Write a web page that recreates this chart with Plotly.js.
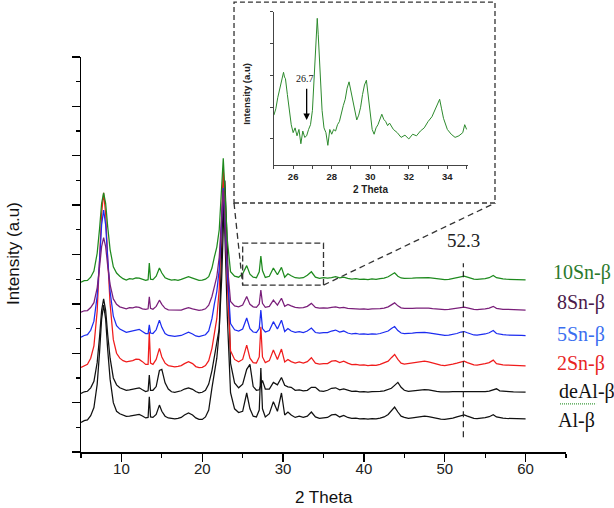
<!DOCTYPE html>
<html>
<head>
<meta charset="utf-8">
<script src="https://cdn.plot.ly/plotly-3.0.1.min.js"></script>
<style>html,body{margin:0;padding:0;background:#fff}#chart{width:614px;height:508px}</style>
</head>
<body>
<div id="chart"></div>
<script>
// Shared 2-theta grid (degrees) for the six stacked patterns
const twoTheta = [
5.0,5.4,5.8,6.2,6.6,7.0,7.3,7.55,7.8,8.05,8.3,8.6,9.0,9.4,9.8,
10.2,10.6,11.0,11.4,11.8,12.2,12.6,13.0,
13.3,13.45,13.6,13.9,14.3,14.7,15.0,15.4,15.8,
16.2,16.6,17.0,17.4,17.8,18.3,18.8,19.2,19.6,20.0,20.4,20.8,
21.2,21.5,21.8,22.1,22.4,22.6,22.8,23.1,23.5,24.0,24.5,
25.0,25.5,25.9,26.3,26.7,27.05,27.25,27.45,27.8,28.3,28.8,29.3,29.8,30.2,30.6,31.0,31.5,32.0,32.5,33.0,33.5,34.0,34.5,35.0,
35.5,36.0,36.5,37.0,37.5,38.0,38.5,39.0,39.5,40.0,40.5,41.0,41.5,42.0,42.5,43.0,43.4,43.8,44.2,44.6,45.0,
45.5,46.0,46.5,47.0,47.5,48.0,48.5,49.0,49.5,50.0,50.5,51.0,51.5,52.0,52.4,52.8,53.2,53.6,54.0,54.5,55.0,55.5,56.0,56.4,56.8,57.2,57.6,58.0,58.5,59.0,59.5,60.0
];

const sn10 = [
6.88,6.94,6.95,7.08,7.33,8.05,9.06,10.07,10.5,10.07,9.13,8.2,7.5,7.25,7.12,
7.02,6.96,7.02,7.0,7.05,7.04,6.98,6.95,
6.98,7.65,7.0,6.98,7.12,7.45,7.25,7.06,7.0,
6.96,6.98,6.95,6.99,7.05,7.1,7.04,6.98,6.95,6.96,7.0,7.1,
7.45,7.9,8.3,9.0,10.8,11.9,10.6,8.6,7.3,7.12,7.08,
7.22,7.55,7.2,7.08,7.06,7.3,7.94,7.35,7.07,7.12,7.45,7.18,7.48,7.08,7.22,7.14,7.06,7.04,7.06,7.16,7.3,7.08,7.03,7.06,
7.04,7.06,7.1,7.05,7.08,7.03,7.0,7.02,6.99,7.0,6.98,7.01,6.99,7.02,7.04,7.1,7.18,7.26,7.12,7.05,7.03,
7.02,7.04,7.05,7.06,7.07,7.06,7.04,7.01,6.99,6.98,6.99,7.02,7.05,7.1,7.12,7.08,7.03,7.0,6.99,7.0,7.02,7.06,7.15,7.06,7.02,7.01,7.0,7.0,6.99,6.98,6.98,6.97
];
const sn8 = [
5.66,5.72,5.73,5.85,6.05,6.65,7.5,8.32,8.68,8.32,7.55,6.78,6.2,5.98,5.88,
5.84,5.8,5.85,5.84,5.88,5.86,5.8,5.78,
5.8,6.29,5.82,5.78,5.9,6.15,5.98,5.82,5.76,
5.76,5.74,5.76,5.75,5.8,5.85,5.8,5.76,5.74,5.76,5.8,5.95,
6.3,6.7,7.1,7.9,9.6,10.6,9.5,7.6,6.1,5.92,5.88,
5.95,6.3,5.98,5.88,5.86,6.0,6.56,6.02,5.86,5.9,6.15,5.95,6.23,5.9,5.98,5.92,5.86,5.84,5.85,5.9,6.02,5.86,5.83,5.84,
5.83,5.86,5.88,5.84,5.86,5.82,5.8,5.81,5.79,5.8,5.78,5.8,5.79,5.81,5.83,5.88,5.96,6.04,5.92,5.84,5.82,
5.81,5.82,5.83,5.84,5.84,5.83,5.81,5.79,5.78,5.77,5.78,5.8,5.82,5.86,5.87,5.84,5.8,5.78,5.77,5.78,5.8,5.83,5.9,5.82,5.79,5.78,5.78,5.77,5.77,5.76,5.76,5.75
];
const sn5 = [
4.65,4.72,4.75,4.93,5.3,6.32,7.75,9.2,9.8,9.2,7.85,6.5,5.5,5.12,4.98,
4.9,4.85,4.88,4.9,4.95,4.97,4.88,4.8,
4.8,5.15,4.82,4.8,4.95,5.34,5.05,4.8,4.72,
4.7,4.68,4.7,4.72,4.78,4.85,4.78,4.7,4.67,4.7,4.75,4.9,
5.4,6.0,6.5,7.4,9.4,10.7,9.4,7.2,5.2,4.95,4.9,
4.98,5.43,5.0,4.86,4.84,5.0,5.75,5.0,4.86,4.92,5.28,4.98,5.34,4.88,5.0,4.9,4.85,4.88,4.84,4.9,5.02,4.84,4.82,4.84,
4.84,4.9,4.94,4.86,4.9,4.82,4.78,4.8,4.77,4.78,4.76,4.78,4.77,4.8,4.84,4.9,5.0,5.08,4.92,4.82,4.8,
4.8,4.82,4.84,4.85,4.85,4.83,4.8,4.76,4.73,4.72,4.73,4.76,4.8,4.86,4.88,4.83,4.77,4.74,4.73,4.75,4.78,4.83,4.92,4.8,4.76,4.75,4.74,4.73,4.73,4.72,4.72,4.71
];
const sn2 = [
3.43,3.5,3.55,3.8,4.3,5.7,7.7,9.65,10.5,9.65,7.85,6.0,4.55,4.0,3.8,
3.7,3.65,3.66,3.7,3.76,3.75,3.66,3.55,
3.55,4.87,3.6,3.55,3.75,4.2,3.85,3.6,3.5,
3.47,3.45,3.47,3.5,3.58,3.66,3.58,3.46,3.42,3.43,3.5,3.7,
4.2,4.86,5.4,6.6,9.3,11.5,9.6,6.8,4.1,3.75,3.65,
3.75,4.33,3.8,3.62,3.6,3.85,5.07,3.85,3.62,3.7,4.13,3.75,4.17,3.65,3.75,3.66,3.6,3.65,3.6,3.66,3.82,3.6,3.56,3.58,
3.58,3.68,3.7,3.62,3.68,3.6,3.54,3.55,3.52,3.53,3.5,3.52,3.51,3.55,3.6,3.68,3.82,3.95,3.75,3.6,3.56,
3.58,3.62,3.65,3.67,3.68,3.65,3.6,3.55,3.52,3.5,3.52,3.56,3.6,3.66,3.68,3.62,3.56,3.53,3.52,3.54,3.58,3.62,3.72,3.58,3.54,3.53,3.52,3.52,3.51,3.5,3.5,3.49
];
const deAl = [
2.37,2.44,2.46,2.6,2.86,3.62,4.68,5.74,6.2,5.74,4.76,3.8,3.0,2.72,2.6,
2.55,2.5,2.52,2.55,2.6,2.6,2.52,2.45,
2.48,3.12,2.5,2.5,2.65,3.3,3.35,2.8,2.55,
2.44,2.42,2.45,2.48,2.55,2.6,2.54,2.45,2.4,2.42,2.5,2.75,
3.3,3.85,4.4,5.0,7.0,9.5,11.0,8.3,3.6,2.8,2.6,
2.75,3.35,3.55,2.65,2.5,2.52,2.7,2.9,2.55,2.55,2.82,2.72,3.02,2.7,2.64,2.62,2.5,2.52,2.48,2.5,2.62,2.62,2.48,2.46,
2.5,2.58,2.6,2.52,2.56,2.5,2.46,2.47,2.44,2.45,2.43,2.45,2.44,2.46,2.48,2.52,2.58,2.7,2.82,2.62,2.5,
2.46,2.48,2.5,2.52,2.53,2.52,2.48,2.46,2.44,2.43,2.44,2.45,2.45,2.45,2.46,2.45,2.44,2.44,2.43,2.44,2.45,2.47,2.52,2.56,2.48,2.46,2.45,2.45,2.44,2.44,2.43,2.43
];
const al = [
1.2,1.27,1.3,1.47,1.8,2.74,4.06,5.38,5.95,5.38,4.15,2.95,2.0,1.65,1.55,
1.5,1.44,1.45,1.48,1.52,1.52,1.46,1.38,
1.4,2.24,1.42,1.4,1.52,1.9,1.65,1.45,1.38,
1.36,1.34,1.36,1.4,1.5,1.58,1.5,1.38,1.32,1.32,1.42,1.7,
2.6,3.2,3.8,4.9,7.9,10.5,8.8,5.5,2.4,1.75,1.6,
1.65,2.39,1.75,1.45,1.42,1.7,3.4,1.75,1.42,1.55,2.04,1.65,2.39,1.5,1.62,1.5,1.4,1.45,1.4,1.45,1.62,1.42,1.36,1.38,
1.4,1.5,1.52,1.42,1.48,1.4,1.36,1.37,1.34,1.35,1.33,1.35,1.34,1.37,1.42,1.52,1.68,1.82,1.62,1.45,1.4,
1.36,1.38,1.41,1.44,1.45,1.43,1.39,1.35,1.33,1.32,1.34,1.37,1.42,1.48,1.5,1.45,1.39,1.36,1.35,1.36,1.39,1.43,1.51,1.42,1.38,1.37,1.36,1.36,1.35,1.35,1.34,1.34
];

const seriesNames = ["Al-β","deAl-β","2Sn-β","5Sn-β","8Sn-β","10Sn-β"];
const seriesValues = [al, deAl, sn2, sn5, sn8, sn10];
const lineColors = ["#111111","#111111","#f01c1c","#1c2cf0","#7a1f7a","#1e8a1e"];
const labelColors = ["#111111","#111111","#e8251f","#3a6ef0","#4b1a4b","#2b7a2b"];

// Inset: 10Sn-β zoomed 25–35°
const insetTheta = [25.0,25.1,25.2,25.3,25.4,25.5,25.55,25.6,25.7,25.8,25.9,26.0,26.1,26.2,26.3,26.4,26.5,26.6,26.7,26.8,26.9,27.0,27.1,27.2,27.25,27.3,27.4,27.5,27.6,27.7,27.8,27.9,28.0,28.1,28.2,28.3,28.4,28.5,28.6,28.7,28.8,28.9,29.0,29.1,29.2,29.3,29.4,29.5,29.6,29.7,29.8,29.9,30.0,30.1,30.2,30.3,30.4,30.5,30.6,30.7,30.8,30.9,31.0,31.2,31.4,31.6,31.8,32.0,32.2,32.4,32.6,32.8,33.0,33.2,33.4,33.5,33.6,33.7,33.8,34.0,34.2,34.4,34.6,34.8,34.9,35.0];
const insetIntensity = [0.75,0.95,1.3,1.55,1.9,2.1,1.95,1.9,1.4,0.9,0.45,0.2,0.35,0.1,0.3,-0.15,0.25,0.05,0.1,0.3,0.45,0.9,2.2,3.5,3.8,3.3,2.0,0.9,0.35,0.2,-0.2,0.3,0.15,0.3,0.25,0.45,0.55,0.85,1.05,1.25,1.6,1.8,1.5,1.2,0.85,0.6,0.75,1.0,1.4,1.7,1.85,1.3,0.75,0.3,0.15,0.35,0.45,0.6,0.78,0.62,0.55,0.42,0.5,0.3,0.2,0.05,0.12,0.0,0.15,0.1,0.25,0.35,0.55,0.7,0.95,1.1,1.25,0.95,0.65,0.3,0.15,0.05,0.1,0.2,0.45,0.3];

const xTicks = [10,20,30,40,50,60];
const markedPeak = 52.3;
const arrowPeak = 26.7;

const traces = seriesValues.map((v,i)=>({
  x: twoTheta, y: v, type:'scatter', mode:'lines', name: seriesNames[i],
  line:{color: lineColors[i], width:1.25}, xaxis:'x', yaxis:'y', hoverinfo:'skip'
}));
traces.push({x: insetTheta, y: insetIntensity, type:'scatter', mode:'lines',
  line:{color:'#2d8a2d', width:1}, xaxis:'x2', yaxis:'y2', hoverinfo:'skip'});

const YDOM = 395/442;
const px = x => (x-5)/60;          // main x data -> paper
const py = y => y/16*YDOM;         // main y data -> paper

const labelY = [0.072,0.136,0.201,0.265,0.339,0.405];
const labelX = [0.9795,0.9815,0.9775,0.9775,0.9775,0.970];
const annotations = seriesNames.map((n,i)=>({
  text:n, xref:'paper', yref:'paper', x:labelX[i], y:labelY[i], xanchor:'left', yanchor:'middle',
  showarrow:false, font:{family:'"Liberation Serif","Times New Roman",serif', size:20, color:labelColors[i]}
}));
annotations.push(
  {text:'Intensity (a.u)', xref:'paper', yref:'paper', x:-0.138, y:0.448, textangle:-90, showarrow:false,
   xanchor:'center', yanchor:'middle', font:{family:'"Liberation Sans",Arial,sans-serif', size:17, color:'#111'}},
  {text:'2 Theta', xref:'paper', yref:'paper', x:0.5, y:-0.102, showarrow:false,
   xanchor:'center', yanchor:'middle', font:{family:'"Liberation Sans",Arial,sans-serif', size:17, color:'#111'}},
  {text:String(markedPeak), xref:'x', yref:'y', x:markedPeak, y:8.58, showarrow:false,
   xanchor:'center', yanchor:'middle', font:{family:'"Liberation Serif","Times New Roman",serif', size:19, color:'#222'}},
  {text:'Intensity (a.u)', xref:'paper', yref:'paper', x:0.342, y:0.81, textangle:-90, showarrow:false,
   xanchor:'center', yanchor:'middle', font:{family:'"Liberation Sans",Arial,sans-serif', size:9.5, color:'#222', weight:'bold'}},
  {text:'2 Theta', xref:'paper', yref:'paper', x:0.596, y:0.593, showarrow:false,
   xanchor:'center', yanchor:'middle', font:{family:'"Liberation Sans",Arial,sans-serif', size:10, color:'#222', weight:'bold'}},
  {text:'', xref:'x2', yref:'y2', x:arrowPeak, y:0.6, axref:'x2', ayref:'y2', ax:arrowPeak, ay:1.63,
   showarrow:true, arrowhead:2, arrowsize:1, arrowwidth:1.3, arrowcolor:'#000'},
  {text:String(arrowPeak), xref:'x2', yref:'y2', x:arrowPeak-0.08, y:1.9, showarrow:false,
   xanchor:'center', yanchor:'middle', font:{family:'"Liberation Serif","Times New Roman",serif', size:10, color:'#111'}}
);

const dashCol = '#333';
const shapes = [
  {type:'rect', xref:'paper', yref:'paper', x0:0.3155, x1:0.8536, y0:0.5633, y1:1.018,
   line:{color:dashCol, width:1.3, dash:'5px,3px'}},
  {type:'rect', xref:'x', yref:'y', x0:25, x1:35, y0:6.76, y1:8.46,
   line:{color:dashCol, width:1.3, dash:'6px,3px'}},
  {type:'line', xref:'paper', yref:'paper', x0:0.3155, y0:0.5633, x1:px(25), y1:py(6.76),
   line:{color:dashCol, width:1.3, dash:'6px,4px'}},
  {type:'line', xref:'paper', yref:'paper', x0:px(35), y0:py(6.76), x1:0.8536, y1:0.5633,
   line:{color:dashCol, width:1.3, dash:'6px,4px'}},
  {type:'line', xref:'x', yref:'y', x0:markedPeak, x1:markedPeak, y0:0.6, y1:7.65,
   line:{color:'#222', width:1.2, dash:'6px,4px'}},
  {type:'line', xref:'paper', yref:'paper', x0:-0.0165, x1:0, y0:0, y1:0, line:{color:'#000', width:1.5}},
  {type:'line', xref:'paper', yref:'paper', x0:0.9876, x1:1.062, y0:0.109, y1:0.109,
   line:{color:'#3a9a3a', width:1.2, dash:'1px,1px'}}
];

const layout = {
  width:614, height:508,
  margin:{l:81, r:48, t:10, b:56, pad:0},
  paper_bgcolor:'#fff', plot_bgcolor:'rgba(0,0,0,0)',
  showlegend:false,
  xaxis:{domain:[0,1], range:[5,65], anchor:'y', showgrid:false, zeroline:false,
    showline:true, linecolor:'#000', linewidth:1.5,
    tickmode:'array', tickvals:xTicks, ticks:'outside', ticklen:8, tickwidth:1.3, tickcolor:'#000',
    ticklabelstandoff:-6,
    minor:{tickmode:'linear', tick0:5, dtick:5, ticks:'outside', ticklen:4, tickwidth:1.2, tickcolor:'#000'},
    tickfont:{family:'"Liberation Sans",Arial,sans-serif', size:15, color:'#222'}},
  yaxis:{domain:[0,YDOM], range:[0,16], anchor:'x', showgrid:false, zeroline:false,
    showline:true, linecolor:'#000', linewidth:1.5,
    tickmode:'linear', tick0:0, dtick:2, ticks:'outside', ticklen:8, tickwidth:1.3, tickcolor:'#000',
    showticklabels:false,
    minor:{tickmode:'linear', tick0:1, dtick:2, ticks:'outside', ticklen:4, tickwidth:1.2, tickcolor:'#000'}},
  xaxis2:{domain:[0.3977,0.7971], range:[25,35.05], anchor:'y2', showgrid:false, zeroline:false,
    showline:true, linecolor:'#444', linewidth:1,
    tickmode:'linear', tick0:26, dtick:2, ticks:'outside', ticklen:3, tickwidth:1, tickcolor:'#444',
    minor:{tickmode:'linear', tick0:25, dtick:1, ticks:'outside', ticklen:3, tickwidth:1, tickcolor:'#444'},
    tickfont:{family:'"Liberation Sans",Arial,sans-serif', size:9.5, color:'#222', weight:'bold'}},
  yaxis2:{domain:[0.6493,0.9955], range:[-0.82,4.0], anchor:'x2', showgrid:false, zeroline:false,
    showline:true, linecolor:'#444', linewidth:1,
    tickmode:'linear', tick0:0, dtick:1, ticks:'outside', ticklen:3, tickwidth:1, tickcolor:'#444',
    showticklabels:false},
  annotations: annotations,
  shapes: shapes
};

Plotly.newPlot('chart', traces, layout, {staticPlot:true, displayModeBar:false});
</script>
</body>
</html>
